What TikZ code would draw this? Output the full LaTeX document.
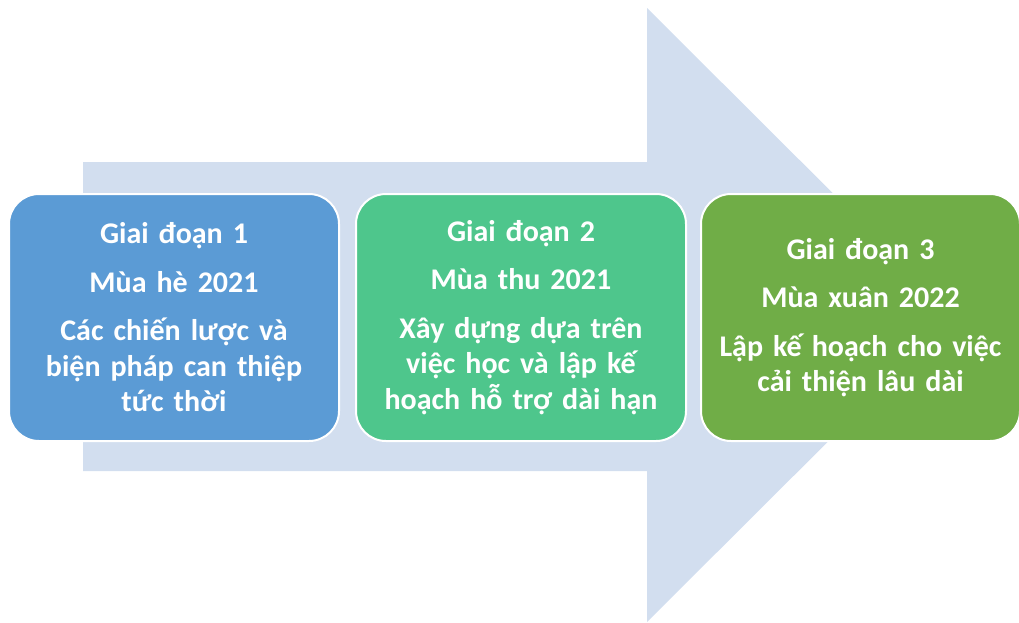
\documentclass[tikz,border=0pt]{standalone}
\usepackage{fontspec}
\setmainfont{Carlito}
\usetikzlibrary{positioning}
\definecolor{arrowfill}{HTML}{D2DEEF}
\definecolor{gdblue}{HTML}{5B9BD5}
\definecolor{gdgreen}{HTML}{4EC68C}
\definecolor{gdolive}{HTML}{70AD47}

\begin{document}
\begin{tikzpicture}[
  x=1pt, y=-1pt,
  stage/.style={draw=white, line width=2pt, rounded corners=30pt,
    minimum width=330pt, minimum height=247pt, inner sep=0pt,
    text width=316pt, align=center, text=white,
    font=\bfseries\fontsize{30}{35.5}\selectfont}
  ]
  \useasboundingbox (0,0) rectangle (1019,622);
  % big arrow behind the stages
  \fill[arrowfill] (83,162) -- (647,162) -- (647,8) -- (955,315)
    -- (647,622) -- (647,471) -- (83,471) -- cycle;
  \node[stage, fill=gdblue, anchor=north west] (gd1) at (8,193)
    {Giai đoạn 1\\[13pt] Mùa hè 2021\\[13pt] Các chiến lược và\\ biện pháp can thiệp\\ tức thời};
  \node[stage, fill=gdgreen, right=15pt of gd1] (gd2)
    {Giai đoạn 2\\[13pt] Mùa thu 2021\\[13pt] Xây dựng dựa trên\\ việc học và lập kế\\ hoạch hỗ trợ dài hạn};
  \node[stage, fill=gdolive, minimum width=319pt, text width=310pt, right=13pt of gd2] (gd3)
    {Giai đoạn 3\\[13pt] Mùa xuân 2022\\[13pt] Lập kế hoạch cho việc\\ cải thiện lâu dài};
\end{tikzpicture}
\end{document}
